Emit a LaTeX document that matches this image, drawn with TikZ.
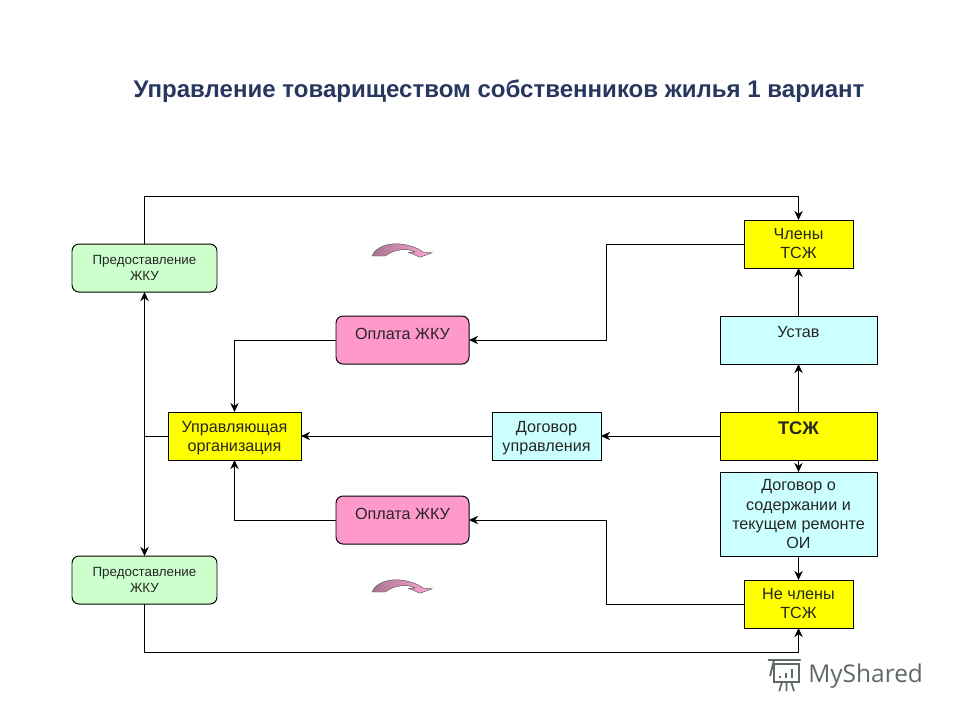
\documentclass[tikz,border=0pt]{standalone}
\usepackage{fontspec}
\setmainfont{Liberation Sans}
\newfontfamily\logofont{Open Sans}
\usepackage{xcolor}
\usetikzlibrary{arrows.meta,positioning,calc}

\definecolor{titleblue}{HTML}{27375F}
\definecolor{boxyellow}{HTML}{FFFF00}
\definecolor{boxcyan}{HTML}{CCFFFF}
\definecolor{boxpink}{HTML}{FF99CC}
\definecolor{boxgreen}{HTML}{CCFFCC}
\definecolor{logogray}{HTML}{5F6868}

\begin{document}
\begin{tikzpicture}[
    box/.style={rectangle,draw=black,line width=0.7pt,outer sep=0pt,font=\fontsize{11.5}{13.6}\selectfont,align=center,text=black!85,inner sep=0pt},
    member/.style={box,fill=boxyellow,minimum width=2.725cm,minimum height=1.2cm,text depth=1pt},
    wide/.style={box,fill=boxcyan,minimum width=3.925cm,minimum height=1.2cm},
    pay/.style={box,fill=boxpink,rounded corners=5pt,minimum width=3.325cm,minimum height=1.2cm,text depth=9pt},
    supply/.style={box,fill=boxgreen,rounded corners=5pt,minimum width=3.625cm,minimum height=1.2cm,font=\fontsize{9.5}{11.4}\selectfont},
    arrow/.style={-{Stealth[length=6.5pt,width=6pt]},line width=0.7pt,black},
    plain/.style={line width=0.7pt,black},
    bent/.pic={
        \path[draw=black!70,line width=0.3pt,left color=boxpink!60!black!85,right color=boxpink!85]
            (0,0) .. controls (0.1,0.25) and (0.45,0.33) .. (0.72,0.3)
            .. controls (0.95,0.27) and (1.15,0.2) .. (1.28,0.1)
            -- (1.5,0.08) -- (1.2,-0.03) -- (0.92,0.09) -- (1.08,0.1)
            .. controls (0.95,0.17) and (0.75,0.18) .. (0.65,0.14)
            .. controls (0.5,0.12) and (0.4,0.05) .. (0.33,0) -- cycle;
    },
]
\useasboundingbox (0,0) rectangle (24,-18);

\node[font=\bfseries\fontsize{17.1}{19}\selectfont,text=titleblue] (title) at (12.475,-2.275) {Управление товариществом собственников жилья 1 вариант};

\node[member] at (19.9625,-6.1) (members) {Члены\\ТСЖ};
\node[wide,below=1.2cm of members,text depth=11pt] (charter) {Устав};
\node[wide,fill=boxyellow,below=1.2cm of charter,font=\bfseries\fontsize{13}{15}\selectfont,text depth=11pt] (hoa) {ТСЖ};
\node[wide,below=0.3cm of hoa,minimum height=2.1cm,text depth=-1.5pt] (upkeep) {Договор о\\содержании и\\текущем ремонте\\ОИ};
\node[member,below=0.6cm of upkeep] (others) {Не члены\\ТСЖ};
\node[box,fill=boxcyan,minimum width=2.725cm,minimum height=1.2cm,text depth=-1.5pt,left=2.975cm of hoa] (contract) {Договор\\управления};
\node[box,fill=boxyellow,minimum width=3.325cm,minimum height=1.2cm,text depth=-1.5pt,left=4.775cm of contract] (company) {Управляющая\\организация};
\node[pay,above right=1.2cm and 0.875cm of company] (payup) {Оплата ЖКУ};
\node[pay,below right=0.9cm and 0.875cm of company] (paydown) {Оплата ЖКУ};
\node[supply,left=2.975cm of payup,yshift=1.8cm] (supplyup) {Предоставление\\ЖКУ};
\node[supply,left=2.975cm of paydown,yshift=-1.5cm] (supplydown) {Предоставление\\ЖКУ};

\coordinate (toptie) at ($(members.north)+(0,0.6)$);
\coordinate (bottomtie) at ($(others.south)+(0,-0.6)$);

\draw[arrow] (supplyup.north) |- (toptie) -- (members.north);
\draw[arrow] (supplydown.south) |- (bottomtie) -- (others.south);
\draw[{Stealth[length=6.5pt,width=6pt]}-{Stealth[length=6.5pt,width=6pt]},plain] (supplyup.south) -- (supplydown.north);
\draw[plain] (company.west) -- (company.west -| supplyup.south);
\draw[arrow] (members.west) -- ++(-3.4375,0) |- (payup.east);
\draw[arrow] (others.west) -- ++(-3.4375,0) |- (paydown.east);
\draw[arrow] (payup.west) -| (company.north);
\draw[arrow] (paydown.west) -| (company.south);
\draw[arrow] (hoa.west) -- (contract.east);
\draw[arrow] (contract.west) -- (company.east);
\draw[arrow] (hoa.north) -- (charter.south);
\draw[arrow] (charter.north) -- (members.south);
\draw[arrow] (hoa.south) -- (upkeep.north);
\draw[arrow] (upkeep.south) -- (others.north);

\pic at (9.3,-6.4) {bent};
\pic at (9.3,-14.8) {bent};

% watermark
\node[font=\logofont\fontsize{17.4}{20}\selectfont,text=logogray,anchor=base west,inner sep=0pt] (logo) at (20.2,-17.07) {MyShared};
\draw[logogray,line width=1.3pt] (19.35,-16.6) rectangle (19.98,-17.05);
\draw[logogray,line width=2pt,line cap=round] (19.22,-16.5) -- (20,-16.5);
\draw[logogray,line width=1.3pt] (19.35,-16.5) -- (19.25,-16.9);
\draw[logogray,line width=2pt] (19.5,-16.96) -- (19.5,-16.9) (19.65,-16.96) -- (19.65,-16.82) (19.8,-16.96) -- (19.8,-16.72);
\draw[logogray,line width=1.2pt] (19.55,-17.05) -- (19.48,-17.28) (19.66,-17.05) -- (19.66,-17.28) (19.78,-17.05) -- (19.85,-17.28);
\end{tikzpicture}
\end{document}
